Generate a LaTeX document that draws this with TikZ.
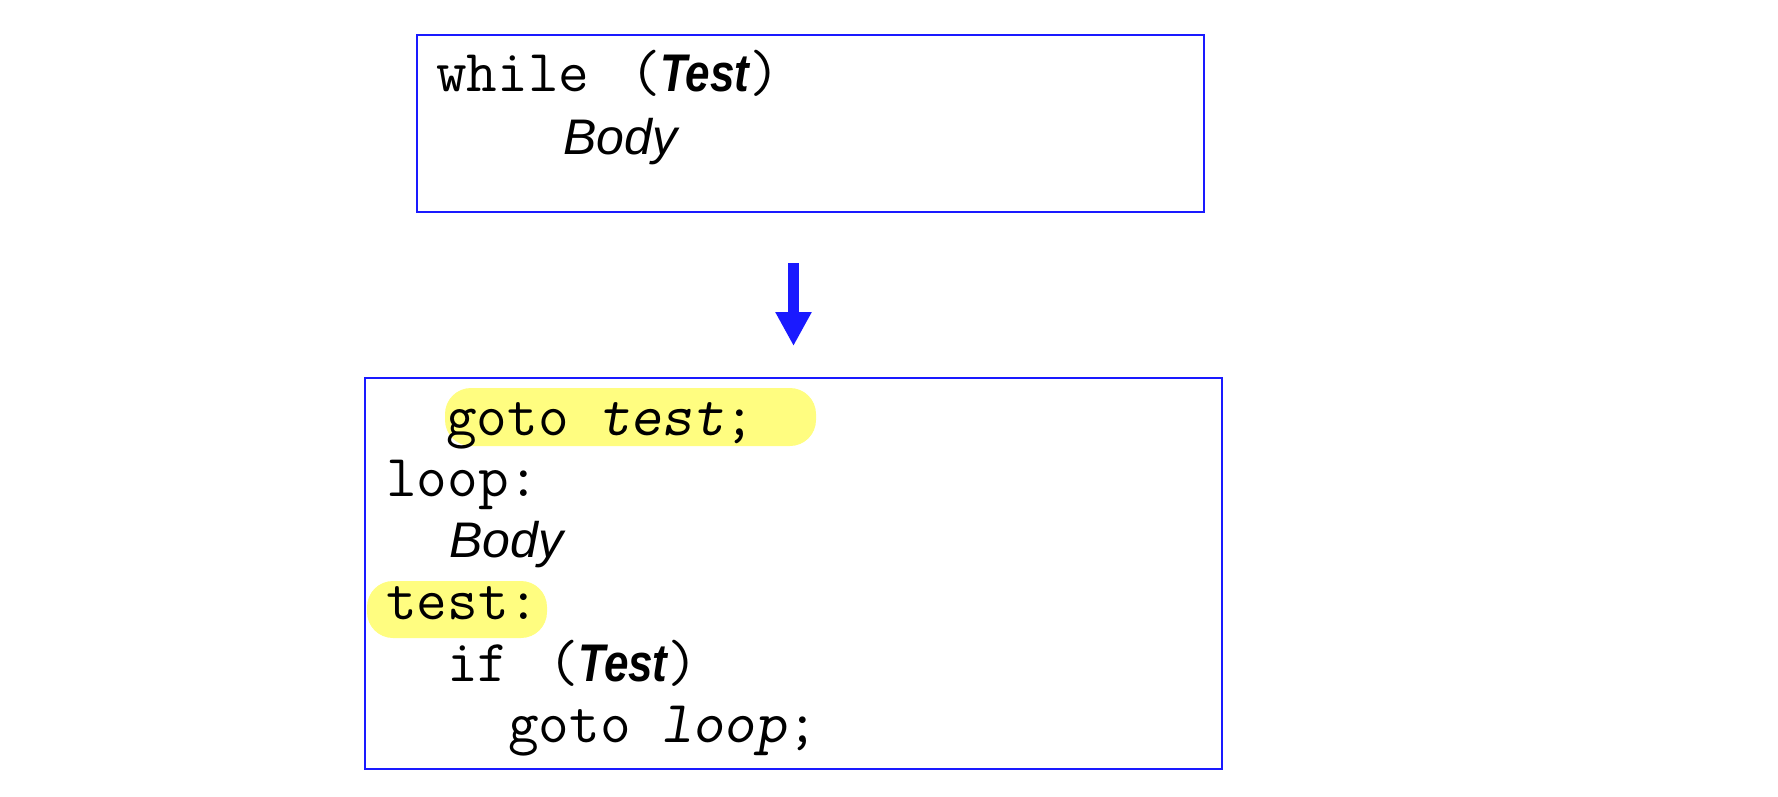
\documentclass[tikz,border=0pt]{standalone}
\usepackage{fontspec}
\usetikzlibrary{arrows.meta}
\newfontfamily\hvfont{Liberation Sans}
\newfontfamily\hvtest[FakeStretch=0.83]{Liberation Sans}
\definecolor{boxblue}{RGB}{26,26,255}
\definecolor{hlyellow}{RGB}{255,253,128}
\newcommand{\bodytxt}{{\hvfont\itshape\fontsize{50}{60}\selectfont Body}}
\newcommand{\testtxt}{{\hvtest\bfseries\itshape\fontsize{53}{60}\selectfont Test}}
\tikzset{
  codebox/.style={draw=boxblue, line width=2pt, rectangle, inner sep=0pt},
  hl/.style={fill=hlyellow, rounded corners=26pt, inner sep=0pt},
  codeline/.style={anchor=base west, inner sep=0pt, font=\ttfamily\fontsize{59.5}{70}\selectfont},
  bigarrow/.style={draw=boxblue, fill=boxblue, line width=11pt, -{Triangle[width=34pt,length=34pt]}}
}
\begin{document}
\begin{tikzpicture}[x=1pt,y=-1pt]
\useasboundingbox (0,0) rectangle (1778,796);
% boxes
\node[codebox, minimum width=787pt, minimum height=177pt] (top) at (810.5,123.5) {};
\node[codebox, minimum width=857pt, minimum height=391pt] (bot) at (793.5,573.5) {};
% highlights
\node[hl, minimum width=371pt, minimum height=58pt] (hl1) at (630.5,417) {};
\node[hl, minimum width=180pt, minimum height=57pt] (hl2) at (457,609.5) {};
% top code
\node[codeline] (w1) at (436,91) {while \kern10pt(\testtxt)};
\node[codeline] (w2) at (563,154) {\bodytxt};
% bottom code
\node[codeline] (b1) at (446,435) {goto \textsl{test};};
\node[codeline] (b2) at (386,496) {loop:};
\node[codeline] (b3) at (449,557) {\bodytxt};
\node[codeline] (b4) at (386,619) {test:};
\node[codeline] (b5) at (447,681) {if \kern9pt(\testtxt)};
\node[codeline] (b6) at (508,742) {goto \textsl{loop};};
% arrow
\draw[bigarrow, shorten <=50pt, shorten >=31pt] (bot.north |- top.south) -- (bot.north);
\end{tikzpicture}
\end{document}
